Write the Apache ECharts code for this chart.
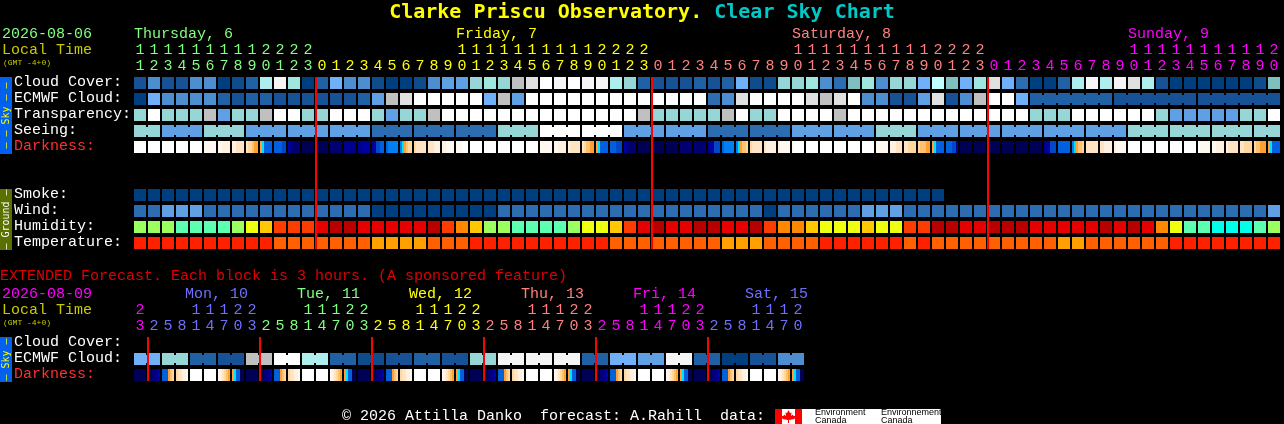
<!DOCTYPE html>
<html><head><meta charset="utf-8">
<style>html,body{margin:0;padding:0;background:#000;}#c{width:1284px;height:424px;}</style>
<script src="https://cdn.jsdelivr.net/npm/echarts@6/dist/echarts.min.js"></script>
</head><body><div id="c"></div>
<script>
// ---- data: forecast levels ----
const hours = [11,12,13,14,15,16,17,18,19,20,21,22,23,
 0,1,2,3,4,5,6,7,8,9,10,11,12,13,14,15,16,17,18,19,20,21,22,23,
 0,1,2,3,4,5,6,7,8,9,10,11,12,13,14,15,16,17,18,19,20,21,22,23,
 0,1,2,3,4,5,6,7,8,9,10,11,12,13,14,15,16,17,18,19,20];
const cloudCover = [2,5,2,2,5,5,0,1,3,11,
 14,10,0,3,7,5,5,1,0,0,
 1,5,6,6,9,10,9,16,15,13,
 14,13,14,14,11,9,3,2,2,2,
 3,2,3,7,1,1,9,9,10,5,
 4,8,10,5,9,9,7,12,8,7,
 10,15,7,4,0,0,3,11,14,11,
 14,15,11,2,0,0,0,0,0,0,
 1,8];
const ecmwfCloud = [0,7,5,5,5,5,3,2,3,3,
 2,2,2,2,2,2,3,6,16,15,
 13,13,13,13,13,7,16,6,13,13,
 13,13,13,13,13,13,13,13,13,13,
 13,4,5,15,13,13,13,13,15,16,
 15,13,5,5,2,2,6,15,2,5,
 16,13,13,7,3,3,3,3,3,3,
 2,2,2,2,2,2,2,2,2,2,
 2,2];
const ecmwfBlockSizes = [1,1,1,1,1,1,1,1,1,1,1,1,1,1,1,1,1,1,1,1,1,1,1,1,1,1,1,1,1,1,1,1,
 1,1,1,1,1,1,1,1,1,1,1,1,1,1,1,1,1,1,1,1,1,1,1,1,1,1,1,1,1,1,1,1,6,6,6];
const transparency = [9,13,9,9,9,16,6,9,9,16,
 13,13,9,9,13,13,13,9,6,9,
 9,16,13,13,13,13,13,13,13,13,
 13,13,13,13,13,13,16,9,9,9,
 9,9,16,13,9,9,13,13,13,13,
 16,13,13,13,13,13,13,13,13,13,
 13,13,13,13,9,9,9,13,13,13,
 13,13,13,9,6,6,6,6,6,9,
 9,13];
const seeingBlockSizes = [2,3,3,3,3,3,3,3,3,3,3,3,3,3,3,3,3,3,3,3,3,3,3,3,3,3,3,2];
const seeingBlocks = [9,6,9,6,6,6,4,4,4,9,13,13,6,6,4,4,6,6,9,6,6,6,6,6,9,9,9,9];
const D_SUNSET = [6,7,9,9,9,9];
const darkness = [
 [0,0,0,0,0,0],[0,0,0,0,0,0],[0,0,0,0,0,0],[0,0,0,0,0,0],[0,0,0,0,0,0],
 [1,1,1,1,1,1],[1,1,2,2,2,2],[2,2,3,3,3,3],[3,4,4,5,6,6],D_SUNSET,
 [9,9,9,9,10,10],[11,12,13,13,13,13],[14,14,14,14,14,14],[14,14,14,14,14,14],[13,13,13,13,13,13],
 [12,12,12,12,12,12],[12,12,11,11,11,11],[12,11,10,10,9,9],[9,8,8,8,8,8],[8,7,6,5,4,4],
 [4,3,3,3,3,3],[3,3,3,2,2,2],[2,2,1,1,1,1],[1,1,1,0,0,0],[0,0,0,0,0,0],
 [0,0,0,0,0,0],[0,0,0,0,0,0],[0,0,0,0,0,0],[0,0,0,0,0,0],[1,1,1,1,1,1],
 [1,1,2,2,2,2],[2,3,3,3,3,3],[3,4,5,5,6,6],D_SUNSET,[9,9,9,10,10,10],
 [11,12,13,13,13,13],[14,14,14,14,14,14],[14,14,14,14,14,14],[14,14,14,14,14,14],[13,13,13,13,13,13],
 [13,13,13,13,13,13],[12,11,11,10,10,10],[9,8,8,8,8,8],[8,7,6,5,5,4],[4,3,3,3,3,3],
 [3,2,2,2,2,2],[2,1,1,1,1,1],[1,0,0,0,0,0],[0,0,0,0,0,0],[0,0,0,0,0,0],
 [0,0,0,0,0,0],[0,0,0,0,0,0],[0,0,0,0,0,0],[1,1,1,1,1,1],[2,2,2,3,3,3],
 [3,3,4,4,4,4],[4,5,5,5,6,6],D_SUNSET,[9,9,9,10,10,11],[14,14,14,14,14,14],
 [14,14,14,14,14,14],[14,14,14,14,14,14],[14,14,14,14,14,14],[14,14,14,14,14,14],[14,14,14,14,14,14],
 [12,11,11,10,10,10],[9,9,9,9,9,9],[8,7,6,5,5,4],[3,3,3,3,3,3],[3,3,2,2,2,2],
 [2,1,1,1,1,1],[0,0,0,0,0,0],[0,0,0,0,0,0],[0,0,0,0,0,0],[0,0,0,0,0,0],
 [0,0,0,0,0,0],[0,1,1,1,1,1],[1,1,2,2,2,2],[2,3,3,3,3,3],[3,3,4,4,4,4],
 [4,5,5,6,6,6],D_SUNSET];
const smoke = [0,0,0,0,0,0,0,0,0,0,0,0,0,0,0,0,0,0,0,0,0,0,0,0,0,0,0,0,0,0,
 0,0,0,0,0,0,0,0,0,0,0,0,0,0,0,0,0,0,0,0,0,0,0,0,0,0,0,0];
const wind = [4,4,6,6,6,4,4,4,4,4,
 4,4,4,4,4,4,4,0,0,0,
 0,0,0,0,0,0,4,4,4,4,
 4,4,4,4,4,4,4,4,4,4,
 4,4,4,4,4,0,4,4,4,4,
 4,4,6,6,6,4,4,4,4,4,
 4,4,4,4,4,4,4,4,4,4,
 4,4,4,4,4,4,4,4,4,4,
 4,6];
const humidity = [2,2,2,1,1,1,1,2,3,4,
 6,6,6,7,8,8,7,7,7,7,
 7,8,6,5,4,2,2,1,1,1,
 1,2,3,3,4,6,7,8,7,7,
 8,8,7,7,8,6,5,5,4,3,
 3,3,4,3,3,6,6,8,8,7,
 7,8,8,8,7,7,7,7,7,8,
 7,8,7,5,3,1,1,0,0,0,
 1,2];
const temperature = [0,0,0,0,0,0,0,0,0,0,
 1,1,1,1,1,1,1,2,2,2,
 2,1,1,1,0,0,0,0,0,0,
 0,0,0,0,1,1,1,1,1,1,
 1,1,2,2,2,1,1,1,1,0,
 0,0,0,0,0,1,0,1,1,1,
 1,1,1,1,1,1,2,2,1,1,
 1,1,1,1,0,0,0,0,0,0,
 0,0];
const hoursExt = [23,2,5,8,11,14,17,20,23,2,5,8,11,14,17,20,23,2,5,8,11,14,17,20,23,
 2,5,8,11,14,17,20,23,2,5,8,11,14,17,20,23,2,5,8,11,14,17,20];
const ecmwfExtBlocks = [7,9,3,2,16,13,11,3,1,2,3,2,9,14,14,14,3,7,6,14,3,0,2,5];
const ecmwfExtBlockSizes = [2,2,2,2,2,2,2,2,2,2,2,2,2,2,2,2,2,2,2,2,2,2,2,2];
const darknessExt = [
 [14,14,14,14,14,14],[14,14,13,13,12,11],[9,9,9,6,5,4],[4,3,3,2,2,1],[0,0,0,0,0,0],[0,0,0,0,0,0],[1,2,3,4,5,6],[6,7,9,9,14,14],
 [14,14,14,14,14,14],[14,14,13,13,12,11],[9,9,9,6,5,4],[4,3,3,2,2,1],[0,0,0,0,0,0],[0,0,0,0,0,0],[1,2,3,4,5,6],[6,7,9,9,14,14],
 [14,14,14,14,14,14],[14,14,13,13,12,11],[9,9,9,6,5,4],[4,3,3,2,2,1],[0,0,0,0,0,0],[0,0,0,0,0,0],[1,2,3,4,5,6],[6,7,9,9,14,14],
 [14,14,14,14,14,14],[14,14,13,13,12,11],[9,9,9,6,5,4],[4,3,3,2,2,1],[0,0,0,0,0,0],[0,0,0,0,0,0],[1,2,3,4,5,6],[6,7,9,9,14,14],
 [14,14,14,14,14,14],[14,14,13,13,12,11],[9,9,9,6,5,4],[4,3,3,2,2,1],[0,0,0,0,0,0],[0,0,0,0,0,0],[1,2,3,4,5,6],[6,7,9,9,14,14],
 [14,14,14,14,14,14],[14,14,13,13,12,11],[9,9,9,6,5,4],[4,3,3,2,2,1],[0,0,0,0,0,0],[0,0,0,0,0,0],[1,2,3,4,5,6],[6,7,9,9,14,14]];
const dayNames = ['Thursday, 6','Friday, 7','Saturday, 8','Sunday, 9'];
const dayStartCells = [0,23,47,71];
const dayNamesExt = ['Mon, 10','Tue, 11','Wed, 12','Thu, 13','Fri, 14','Sat, 15'];
const dayStartCellsExt = [3.65,11.65,19.65,27.65,35.65,43.65];
const midnightCells = [13,37,61];
const midnightCellsExt = [1,9,17,25,33,41];
const rowLabels = ['2026-08-06','Local Time','(GMT -4+0)','Cloud Cover:','ECMWF Cloud:','Transparency:','Seeing:','Darkness:','','','Smoke:','Wind:','Humidity:','Temperature:'];
const rowLabelsExt = ['2026-08-09','Local Time','(GMT -4+0)','Cloud Cover:','ECMWF Cloud:','Darkness:'];

// ---- styles ----
const MONO = '"Liberation Mono", monospace';
const TITLE_MONO = '"DejaVu Sans Mono", monospace';
const FS = 15;
const skyPalette = ['#003f7f','#0f4c8c','#175296','#2060a4','#2c6cb0','#4d8ed0','#5f9fe3','#70b0f8','#7fbfbf','#96d6d6','#a0e6e0','#afeeee','#c0ffff','#ffffff','#f5f5f5','#e0e0e0','#c0c0c0'];
const darkPalette = ['#ffffff','#fff8f0','#fff0e0','#ffe4c4','#ffd8a0','#ffc070','#ffa030','#00e0ff','#0080f0','#0060e0','#0048c8','#0000a0','#000090','#000070','#000055'];
const humidityPalette = ['#00ffe8','#5cffb0','#9cff60','#eeff10','#ffc800','#ff8800','#ff3c00','#e60000','#b80000'];
const tempPalette = ['#ff2000','#ff6000','#ffa000'];
const dayColors = ['#80ff80','#ffff00','#ff8080','#ff00ff'];
const dayColorsExt = ['#ff00ff','#7070ff','#80ff80','#ffff00','#ff8080','#ff00ff','#7070ff'];
const rowStyle = ['date','local','gmt','row','row','row','row','dark','row','row','row','row','row','row'];
const rowStyleExt = ['date2','local','gmt','row','row','dark'];

// ---- helpers ----
function blocksToCells(sizes, values) {
  const out = [], starts = [];
  sizes.forEach((n, b) => { for (let k = 0; k < n; k++) { out.push(values ? values[b] : null); starts.push(k === 0); } });
  return { values: out, starts };
}
function cellSeries(name, gridIdx, row, values, palette, starts) {
  return {
    type: 'custom', name, xAxisIndex: gridIdx, yAxisIndex: gridIdx, z: 2,
    data: values.map((v, i) => [i + 0.5, row, v, starts && !starts[i] ? 1 : 0]),
    renderItem(p, api) {
      const c = api.coord([api.value(0), api.value(1)]);
      const cw = api.size([1, 0])[0], rh = api.size([0, 1])[1];
      const w = cw - 2, h = rh - 4, fill = palette[api.value(2)];
      const kids = [{ type: 'rect', shape: { x: c[0] - w / 2, y: c[1] - h / 2, width: w, height: h }, style: { fill } }];
      if (api.value(3)) kids.push({ type: 'rect', shape: { x: c[0] - w / 2 - 2, y: c[1] - h / 2 + 2, width: 2, height: h - 4 }, style: { fill } });
      return { type: 'group', children: kids };
    }
  };
}
function darkSeries(name, gridIdx, row, samples) {
  return {
    type: 'custom', name, xAxisIndex: gridIdx, yAxisIndex: gridIdx, z: 2,
    data: samples.map((s, i) => [i + 0.5, row].concat(s)),
    renderItem(p, api) {
      const c = api.coord([api.value(0), api.value(1)]);
      const cw = api.size([1, 0])[0], rh = api.size([0, 1])[1];
      const w = cw - 2, h = rh - 4, n = 6, stops = [];
      for (let k = 0; k < n; k++) {
        const col = darkPalette[api.value(2 + k)];
        stops.push({ offset: k / n, color: col }, { offset: (k + 1) / n, color: col });
      }
      return { type: 'rect', shape: { x: c[0] - w / 2, y: c[1] - h / 2, width: w, height: h },
        style: { fill: new echarts.graphic.LinearGradient(0, 0, 1, 0, stops) } };
    }
  };
}
function hourSeries(gridIdx, hrs, colorOf) {
  const data = [];
  hrs.forEach((h, i) => {
    if (h >= 10) data.push([i + 0.5, 1, Math.floor(h / 10), colorOf(i)]);
    data.push([i + 0.5, 2, h % 10, colorOf(i)]);
  });
  return {
    type: 'custom', name: 'hours' + gridIdx, xAxisIndex: gridIdx, yAxisIndex: gridIdx, z: 3, silent: true,
    data,
    renderItem(p, api) {
      const c = api.coord([api.value(0), api.value(1)]);
      return { type: 'text', style: { x: c[0], y: c[1] - 1, text: String(api.value(2)), fill: api.value(3),
        font: FS + 'px ' + MONO, textAlign: 'center', textVerticalAlign: 'middle' } };
    }
  };
}
function daySeries(gridIdx, names, starts, colorOf) {
  return {
    type: 'custom', name: 'days' + gridIdx, xAxisIndex: gridIdx, yAxisIndex: gridIdx, z: 3, silent: true,
    data: names.map((n, i) => [starts[i], 0, n, colorOf(i)]),
    renderItem(p, api) {
      const c = api.coord([api.value(0), api.value(1)]);
      return { type: 'text', style: { x: c[0] + 1, y: c[1] - 1, text: api.value(2), fill: api.value(3),
        font: FS + 'px ' + MONO, textAlign: 'left', textVerticalAlign: 'middle' } };
    }
  };
}
function midnightSeries(gridIdx, cells, rowFrom, rowTo) {
  return {
    type: 'custom', name: 'midnight' + gridIdx, xAxisIndex: gridIdx, yAxisIndex: gridIdx, z: 5, silent: true,
    data: cells.map(c => [c]),
    renderItem(p, api) {
      const a = api.coord([api.value(0), rowFrom]), b = api.coord([api.value(0), rowTo]);
      const h = api.size([0, 1])[1] - 4;
      return { type: 'rect', shape: { x: a[0], y: a[1] - h / 2, width: 2, height: b[1] - a[1] + h }, style: { fill: '#ff0000' } };
    }
  };
}

// ---- day colour per cell ----
let d = -1;
const dayOfCell = hours.map((h, i) => { if (i === 0 || h === 0) d++; return d; });
let e = 0;
const dayOfCellExt = hoursExt.map((h, i) => { if (i > 0 && h === 2) e++; return e; });

const ecmwfTop = blocksToCells(ecmwfBlockSizes);
const seeingTop = blocksToCells(seeingBlockSizes, seeingBlocks);
const ecmwfExt = blocksToCells(ecmwfExtBlockSizes, ecmwfExtBlocks);

const richBase = {
  date: { color: '#80ff80', fontFamily: MONO, fontSize: FS, padding: [0, 0, 1, 0] },
  date2: { color: '#ff00ff', fontFamily: MONO, fontSize: FS, padding: [0, 0, 1, 0] },
  local: { color: '#c8c800', fontFamily: MONO, fontSize: FS, padding: [0, 0, 1, 0] },
  gmt: { color: '#c8c800', fontFamily: MONO, fontSize: 8, padding: [0, 0, 8, 1] },
  row: { color: '#ffffff', fontFamily: MONO, fontSize: FS, padding: [0, 0, 1, 12] },
  dark: { color: '#ff3030', fontFamily: MONO, fontSize: FS, padding: [0, 0, 1, 12] }
};
function yAxisFor(gridIdx, labels, styles) {
  return {
    type: 'category', gridIndex: gridIdx, inverse: true, data: labels,
    axisLine: { show: false }, axisTick: { show: false }, splitLine: { show: false },
    axisLabel: { show: true, interval: 0, align: 'left', margin: 131, verticalAlign: 'middle', rich: richBase,
      formatter: (v, i) => v ? '{' + styles[i] + '|' + v + '}' : '' }
  };
}
function xAxisFor(gridIdx, n) {
  return { type: 'value', gridIndex: gridIdx, min: 0, max: n, show: false, splitLine: { show: false } };
}

const chart = echarts.init(document.getElementById('c'), null, { renderer: 'canvas' });

const R = { cloud: 3, ecmwf: 4, transp: 5, seeing: 6, dark: 7, smoke: 10, wind: 11, hum: 12, temp: 13 };
const RX = { cloud: 3, ecmwf: 4, dark: 5 };

function sideBar(top, height, color, label, textColor) {
  return [
    { type: 'rect', shape: { x: 0, y: top, width: 12, height }, style: { fill: color }, z: 10 },
    { type: 'text', x: 6, y: top + height / 2, rotation: Math.PI / 2, z: 11,
      style: { text: label, fill: textColor, font: '10px "DejaVu Sans Mono"', textAlign: 'center', textVerticalAlign: 'middle' } }
  ];
}
const leaf = [[788.5,410],[790,413],[791.5,412.5],[791,416],[793,414.5],[793.5,416],[795.5,416],[794.5,419],[789,420],[789,423],[788,423],[788,420],[782.5,419],[781.5,416],[783.5,416],[784,414.5],[786,416],[785.5,412.5],[787,413]];

chart.setOption({
  backgroundColor: '#000000',
  animation: false,
  title: {
    left: 'center', top: 3, padding: 0,
    text: '{a|Clarke Priscu Observatory. }{b|Clear Sky Chart}',
    textStyle: { rich: {
      a: { color: '#ffff00', fontFamily: TITLE_MONO, fontWeight: 'bold', fontSize: 20 },
      b: { color: '#00c8c8', fontFamily: TITLE_MONO, fontWeight: 'bold', fontSize: 20 } } }
  },
  grid: [
    { left: 133, top: 27, width: 1148, height: 224, outerBoundsMode: 'none' },
    { left: 133, top: 287, width: 672, height: 96, outerBoundsMode: 'none' }
  ],
  xAxis: [xAxisFor(0, hours.length), xAxisFor(1, hoursExt.length)],
  yAxis: [yAxisFor(0, rowLabels, rowStyle), yAxisFor(1, rowLabelsExt, rowStyleExt)],
  series: [
    daySeries(0, dayNames, dayStartCells, i => dayColors[i]),
    hourSeries(0, hours, i => dayColors[dayOfCell[i]]),
    cellSeries('Cloud Cover', 0, R.cloud, cloudCover, skyPalette),
    cellSeries('ECMWF Cloud', 0, R.ecmwf, ecmwfCloud, skyPalette, ecmwfTop.starts),
    cellSeries('Transparency', 0, R.transp, transparency, skyPalette),
    cellSeries('Seeing', 0, R.seeing, seeingTop.values, skyPalette, seeingTop.starts),
    darkSeries('Darkness', 0, R.dark, darkness),
    cellSeries('Smoke', 0, R.smoke, smoke, skyPalette),
    cellSeries('Wind', 0, R.wind, wind, skyPalette),
    cellSeries('Humidity', 0, R.hum, humidity, humidityPalette),
    cellSeries('Temperature', 0, R.temp, temperature, tempPalette),
    midnightSeries(0, midnightCells, R.cloud, R.temp),
    daySeries(1, dayNamesExt, dayStartCellsExt, i => dayColorsExt[i + 1]),
    hourSeries(1, hoursExt, i => dayColorsExt[dayOfCellExt[i]]),
    cellSeries('ECMWF Cloud ext', 1, RX.ecmwf, ecmwfExt.values, skyPalette, ecmwfExt.starts),
    darkSeries('Darkness ext', 1, RX.dark, darknessExt),
    midnightSeries(1, midnightCellsExt, RX.cloud, RX.dark)
  ],
  graphic: [
    ...sideBar(77, 77, '#0060f0', '\u2014 \u2014 Sky \u2014 \u2014', '#ffff00'),
    ...sideBar(189, 61, '#5a7000', '\u2014 Ground \u2014', '#ffffff'),
    ...sideBar(337, 45, '#0060f0', '\u2014 Sky \u2014', '#ffff00'),
    { type: 'text', x: 0, y: 276.5, style: { text: 'EXTENDED Forecast. Each block is 3 hours. (A sponsored feature)', fill: '#e00000', font: FS + 'px ' + MONO, textVerticalAlign: 'middle' } },
    { type: 'text', x: 342, y: 416, style: { text: '\u00a9 2026 Attilla Danko  forecast: A.Rahill  data:', fill: '#ffffff', font: FS + 'px ' + MONO, textVerticalAlign: 'middle' } },
    { type: 'rect', shape: { x: 775, y: 409, width: 166, height: 15 }, style: { fill: '#ffffff' } },
    { type: 'rect', shape: { x: 775, y: 409, width: 7, height: 15 }, style: { fill: '#ff0000' } },
    { type: 'rect', shape: { x: 795, y: 409, width: 7, height: 15 }, style: { fill: '#ff0000' } },
    { type: 'polygon', shape: { points: leaf }, style: { fill: '#ff0000' } },
    { type: 'text', x: 815, y: 413, style: { text: 'Environment', fill: '#000', font: '9px "Liberation Sans"', textVerticalAlign: 'middle' } },
    { type: 'text', x: 815, y: 420.5, style: { text: 'Canada', fill: '#000', font: '9px "Liberation Sans"', textVerticalAlign: 'middle' } },
    { type: 'text', x: 881, y: 413, style: { text: 'Environnement', fill: '#000', font: '9px "Liberation Sans"', textVerticalAlign: 'middle' } },
    { type: 'text', x: 881, y: 420.5, style: { text: 'Canada', fill: '#000', font: '9px "Liberation Sans"', textVerticalAlign: 'middle' } }
  ]
});
</script>
</body></html>
